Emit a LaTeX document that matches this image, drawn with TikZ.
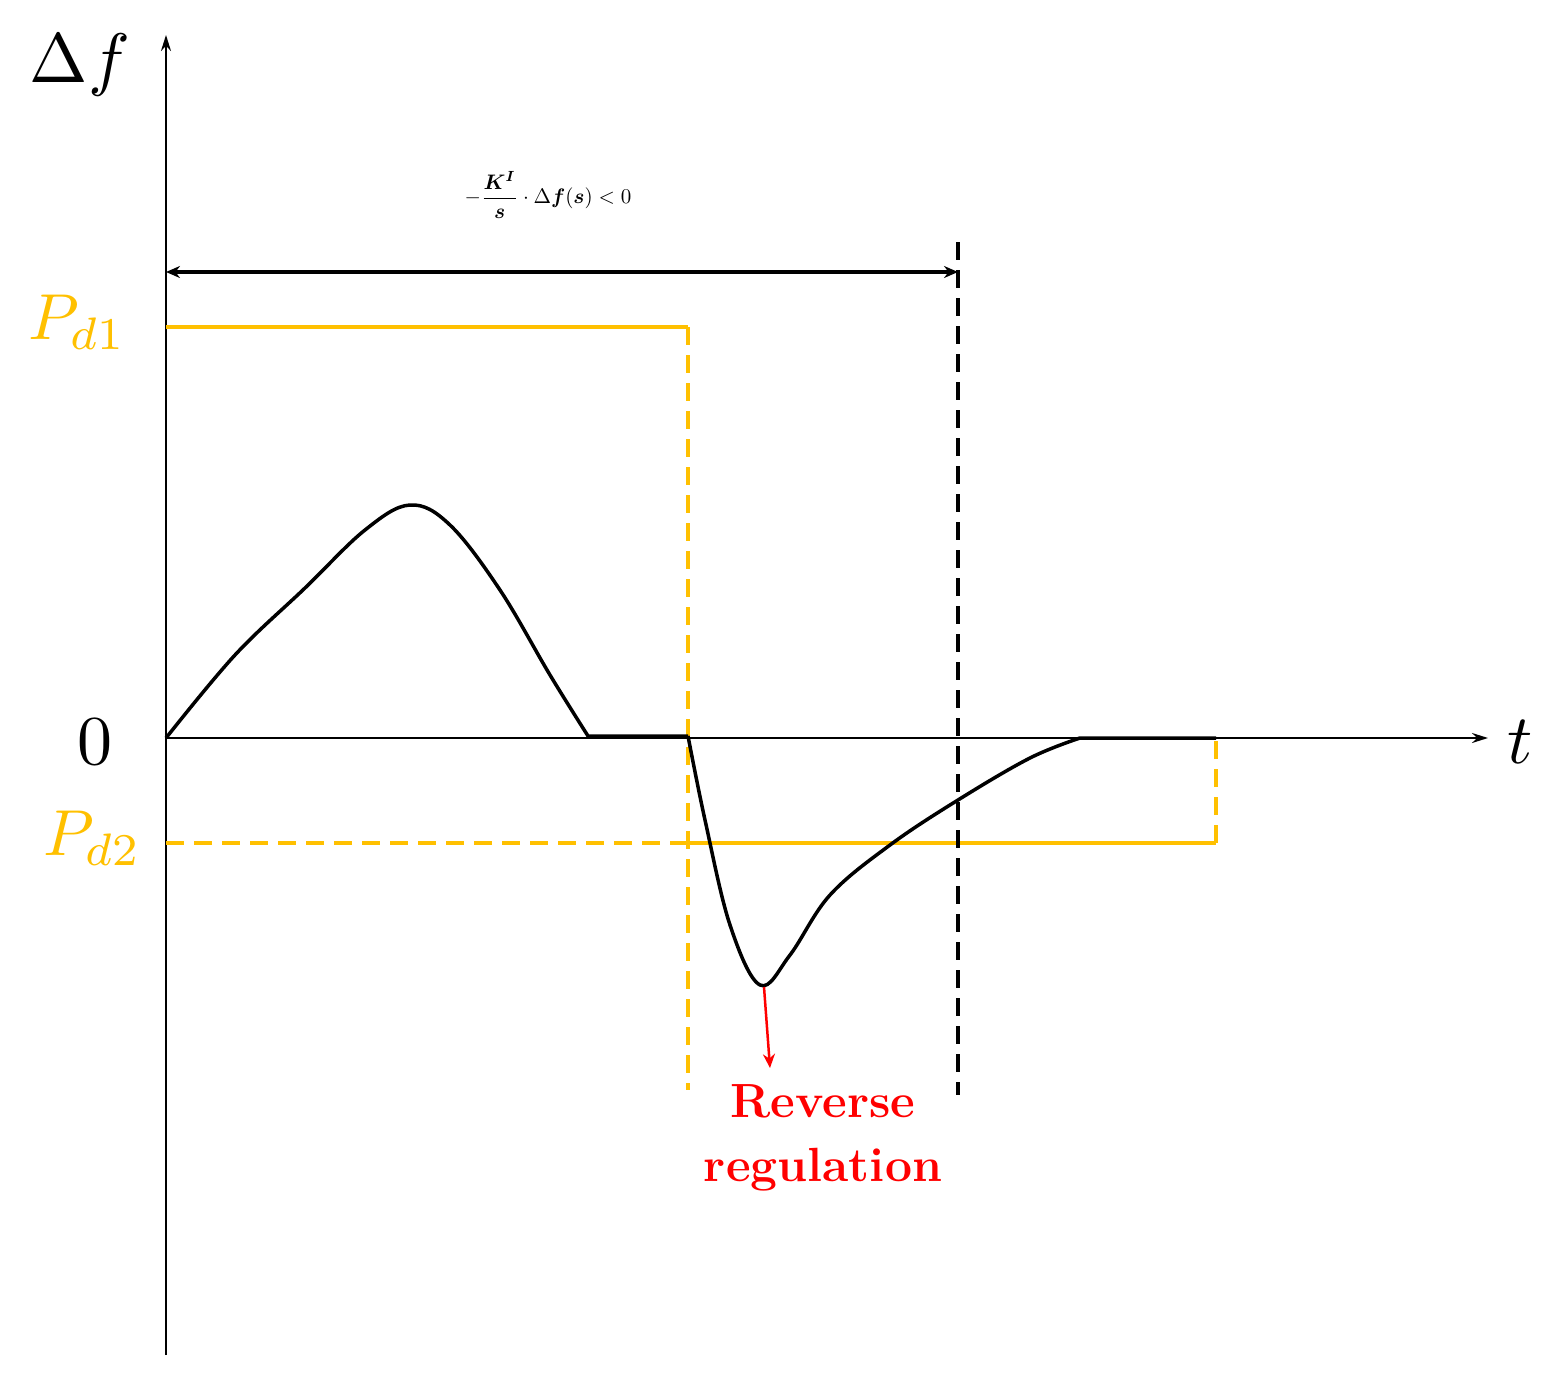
\documentclass[tikz,border=0pt]{standalone}
\usepackage{amsmath}
\usetikzlibrary{arrows.meta}
\begin{document}
\begin{tikzpicture}[x=1pt,y=-1pt,
  ylw/.style={draw={rgb,255:red,255;green,192;blue,0},line width=4pt},
  dsh/.style={dash pattern=on 18pt off 10pt},
  lbl/.style={inner sep=0pt}]
\definecolor{ylwc}{RGB}{255,192,0}
\useasboundingbox (0,0) rectangle (1559,1381);
\coordinate (o) at (166,738);
\coordinate (ytop) at (166,35);
\coordinate (ybot) at (166,1355);
\coordinate (xend) at (1488,738);
\draw[line width=2.2pt,-{Stealth[length=16pt,width=10pt]}] (ybot) -- (ytop);
\draw[line width=2.2pt,-{Stealth[length=16pt,width=10pt]}] (o) -- (xend);
\node[lbl,scale=7] (df) at (80,65) {$\Delta f$};
\node[lbl,scale=7] (tl) at (1520,742) {$t$};
\node[lbl,scale=7] (zero) at (95,742) {$0$};
\node[lbl,text=ylwc,scale=6.5] (pd1) at (77,322) {$P_{d1}$};
\node[lbl,text=ylwc,scale=6.5] (pd2) at (92,838) {$P_{d2}$};
% yellow
\coordinate (a1) at (166,327); \coordinate (a2) at (688,327); \coordinate (a3) at (688,1090);
\draw[ylw] (a1) -- (a2);
\draw[ylw,dsh] (a2) -- (a3);
\coordinate (b1) at (166,843); \coordinate (b2) at (688,843); \coordinate (b3) at (1216,843); \coordinate (b4) at (1216,738);
\draw[ylw,dsh] (b1) -- (b2);
\draw[ylw] (b2) -- (b3);
\draw[ylw,dsh] (b3) -- (b4);
% black dashed
\coordinate (k1) at (958,242); \coordinate (k2) at (958,1095);
\draw[line width=4.5pt,dsh] (k1) -- (k2);
\coordinate (h1) at (166,272); \coordinate (h2) at (958,272);
\draw[line width=3.5pt,{Stealth[length=14pt,width=12pt]}-{Stealth[length=14pt,width=12pt]}] (h1) -- (h2);
\node[lbl,scale=2.1] (form) at (548,195) {$-\dfrac{\boldsymbol{K^I}}{\boldsymbol{s}}\cdot\Delta\boldsymbol{f}(\boldsymbol{s})<0$};
% curve
\draw[line width=3.5pt,line join=round] plot[smooth,tension=0.6] coordinates {(166,738) (235,655) (305,588) (365,530) (410,505) (450,525) (500,590) (550,675) (588,736)}
 -- (688,736)
 plot[smooth,tension=0.6] coordinates {(688,736) (705,820) (730,925) (760,985) (790,955) (830,895) (890,845) (958,800) (1030,758) (1080,738)}
 -- (1216,738);
\coordinate (r1) at (764,987); \coordinate (r2) at (770,1068);
\draw[red,line width=2.5pt,-{Stealth[length=14pt,width=12pt]}] (r1) -- (r2);
\node[lbl,text=red,align=center,font={\fontsize{48}{64}\selectfont\bfseries}] (rev) at (823,1138) {Reverse\\regulation};
\end{tikzpicture}
\end{document}
